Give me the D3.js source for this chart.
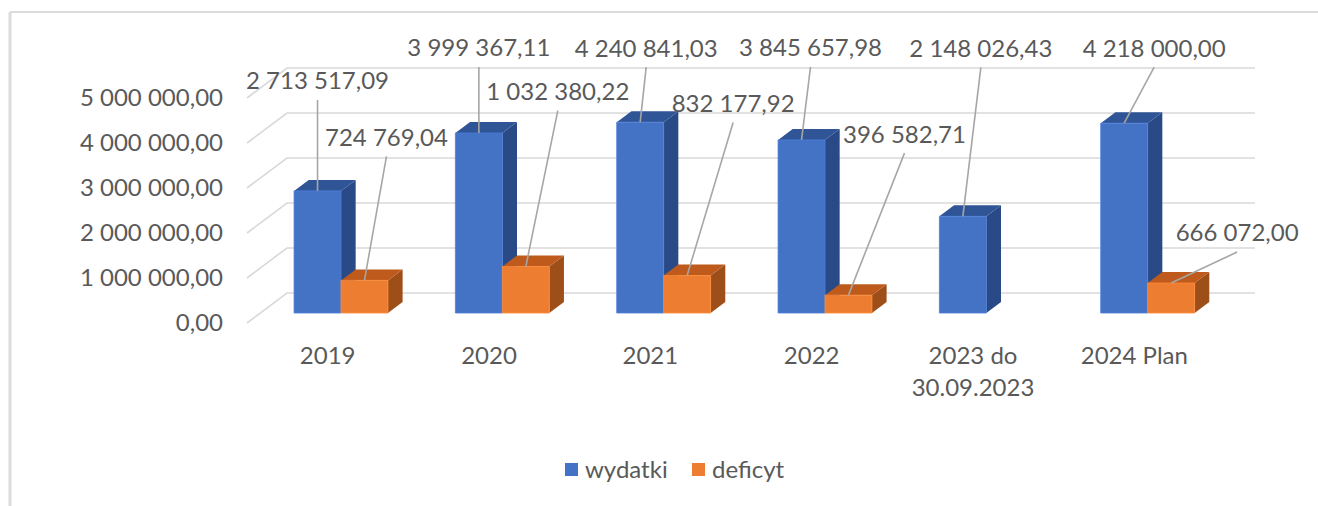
<!DOCTYPE html>
<html>
<head>
<meta charset="utf-8">
<script src="https://cdn.jsdelivr.net/npm/d3@7"></script>
<style>
  html, body { margin: 0; padding: 0; background: #ffffff; }
  svg { display: block; font-family: Lato, "Open Sans", sans-serif; }
</style>
</head>
<body>
<svg id="chart" width="1318" height="506"></svg>
<script>
// ---- data ----
const categories = ["2019", "2020", "2021", "2022", "2023 do\n30.09.2023", "2024 Plan"];
const seriesNames = ["wydatki", "deficyt"];
const wydatki = [2713517.09, 3999367.11, 4240841.03, 3845657.98, 2148026.43, 4218000.00];
const deficyt = [724769.04, 1032380.22, 832177.92, 396582.71, null, 666072.00];
const yTicks = [0, 1000000, 2000000, 3000000, 4000000, 5000000];

// ---- layout (label placement relative to bar top, as moved by hand in the original) ----
const wLabelShift = [[0, -110], [0, -85], [6, -74], [9, -92], [18, -168], [30, -75]];
const dLabelShift = [[22, -143], [32, -175], [46, -172], [56, -161], null, [66, -50]];

const colors = {
  wydatki: { front: "#4472C4", top: "#2F5597", side: "#294a86" },
  deficyt: { front: "#ED7D31", top: "#BE5B1C", side: "#9E4F19" }
};
const textColor = "#595959";
const gridColor = "#d9d9d9";
const fontSize = 24;

const svg = d3.select("#chart");
const locale = d3.formatLocale({ decimal: ",", thousands: " ", grouping: [3], currency: ["", ""] });
const fmt = locale.format(",.2f");

// 3D projection: depth d (px) shifts a point by (d*4/3, -d)
const DEPTH_WALL = 30, BAR_FRONT = 10, BAR_BACK = 21;
const proj = (x, y, d) => [x + d * 4 / 3, y - d];

const x = d3.scaleBand().domain(categories).range([247, 1215]).paddingInner(0.418).paddingOuter(0.209);
const xs = d3.scaleBand().domain(seriesNames).range([0, x.bandwidth()]);
const y = d3.scaleLinear().domain([0, 5000000]).range([323, 98]);

// frame
svg.append("line").attr("x1", 10).attr("x2", 10).attr("y1", 12).attr("y2", 506)
  .attr("stroke", "#dcdcdc").attr("stroke-width", 3);
svg.append("line").attr("x1", 10).attr("x2", 1318).attr("y1", 12).attr("y2", 12)
  .attr("stroke", "#dcdcdc").attr("stroke-width", 2);

// gridlines (side wall + back wall)
const grid = svg.append("g");
yTicks.forEach(v => {
  const p0 = proj(x.range()[0], y(v), 0);
  const p1 = proj(x.range()[0], y(v), DEPTH_WALL);
  const p2 = proj(x.range()[1], y(v), DEPTH_WALL);
  grid.append("polyline")
    .attr("points", [p0, p1, p2].map(p => p.join(",")).join(" "))
    .attr("fill", "none").attr("stroke", gridColor).attr("stroke-width", 1.6);
});

// y axis labels
const yAxis = d3.axisLeft(y).tickValues(yTicks).tickFormat(fmt).tickSize(0).tickPadding(24);
const gy = svg.append("g").attr("transform", `translate(${x.range()[0]},0)`).call(yAxis);
gy.select(".domain").remove();
gy.selectAll("text").attr("fill", textColor).style("font-size", fontSize + "px")
  .style("font-family", "Lato, sans-serif");

// bars
const barsData = [];
categories.forEach((c, i) => {
  [["wydatki", wydatki[i]], ["deficyt", deficyt[i]]].forEach(([s, v]) => {
    if (v == null) return;
    barsData.push({ c, i, s, v });
  });
});

const barG = svg.append("g");
const poly = pts => pts.map(p => p.join(",")).join(" ");
barsData.forEach(b => {
  const x0 = x(b.c) + xs(b.s), x1 = x0 + xs.bandwidth();
  const yt = y(b.v), yb = y(0);
  const col = colors[b.s];
  const fTL = proj(x0, yt, BAR_FRONT), fTR = proj(x1, yt, BAR_FRONT);
  const fBL = proj(x0, yb, BAR_FRONT), fBR = proj(x1, yb, BAR_FRONT);
  const bTL = proj(x0, yt, BAR_BACK), bTR = proj(x1, yt, BAR_BACK), bBR = proj(x1, yb, BAR_BACK);
  barG.append("polygon").attr("points", poly([fTR, bTR, bBR, fBR])).attr("fill", col.side);
  barG.append("polygon").attr("points", poly([fTL, bTL, bTR, fTR])).attr("fill", col.top);
  barG.append("polygon").attr("points", poly([fTL, fTR, fBR, fBL])).attr("fill", col.front)
    .attr("stroke", d3.color(col.front).brighter(0.3)).attr("stroke-width", 0.8);
});

// data labels with leader lines
const lblG = svg.append("g");
barsData.forEach(b => {
  const shift = b.s === "wydatki" ? wLabelShift[b.i] : dLabelShift[b.i];
  const x0 = x(b.c) + xs(b.s);
  const anchor = proj(x0 + xs.bandwidth() / 2, y(b.v), BAR_FRONT);
  const lx = anchor[0] + shift[0], ly = anchor[1] + shift[1];
  lblG.append("line")
    .attr("x1", lx).attr("y1", ly + 19).attr("x2", anchor[0]).attr("y2", anchor[1])
    .attr("stroke", "#a6a6a6").attr("stroke-width", 1.6);
  lblG.append("text").attr("x", lx).attr("y", ly).attr("dy", "0.35em")
    .attr("text-anchor", "middle").attr("fill", textColor)
    .style("font-size", fontSize + "px").text(fmt(b.v));
});

// x axis labels
const xg = svg.append("g");
categories.forEach(c => {
  const cx = x(c) + x.bandwidth() / 2;
  const t = xg.append("text").attr("x", cx).attr("y", 356)
    .attr("text-anchor", "middle").attr("fill", textColor).style("font-size", fontSize + "px");
  c.split("\n").forEach((line, k) => {
    t.append("tspan").attr("x", cx).attr("dy", k === 0 ? "0.35em" : "1.3em").text(line);
  });
});

// legend
const legend = svg.append("g").attr("transform", "translate(565,470)");
seriesNames.forEach((s, k) => {
  const g = legend.append("g").attr("transform", `translate(${k === 0 ? 0 : 127},0)`);
  g.append("rect").attr("x", 0).attr("y", -7).attr("width", 13).attr("height", 13).attr("fill", colors[s].front);
  g.append("text").attr("x", 20).attr("y", 0).attr("dy", "0.35em").attr("fill", textColor)
    .style("font-size", fontSize + "px").text(s);
});
</script>
</body>
</html>
